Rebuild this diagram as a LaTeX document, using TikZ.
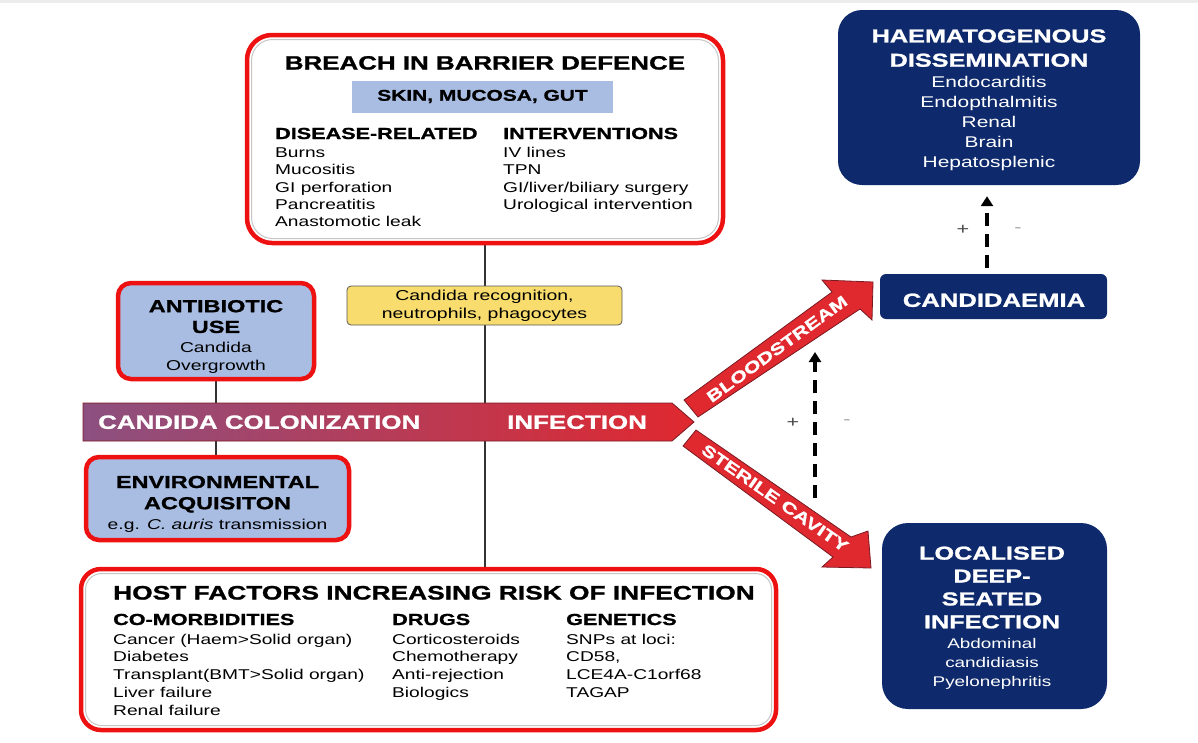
\documentclass[tikz,border=0pt]{standalone}
\usepackage{fontspec}
\setmainfont{Liberation Sans}[FakeStretch=1.35, BoldFeatures={FakeBold=1.2}]
\usetikzlibrary{arrows.meta}
\pgfdeclarelayer{bg}
\pgfdeclarelayer{canvas}
\pgfsetlayers{canvas,bg,main}
\definecolor{bred}{HTML}{EE1111}
\definecolor{lblue}{HTML}{A9BDE3}
\definecolor{navy}{HTML}{0E2A6C}
\definecolor{yel}{HTML}{F8DC6E}
\definecolor{arrred}{HTML}{E0282F}
\definecolor{arrdark}{HTML}{7A1A22}
\definecolor{mauve}{HTML}{8C5080}
\tikzset{
  redbox/.style={draw=bred, line width=4.5pt, rounded corners=#1, inner sep=0pt},
  redbox/.default=20pt,
  navybox/.style={fill=navy, rounded corners=#1, inner sep=0pt},
  navybox/.default=20pt,
  innerline/.style={draw=gray!45, line width=1pt, rounded corners=#1, inner sep=0pt},
  innerline/.default=18pt,
  tbig/.style={font=\bfseries\fontsize{19.2}{22}\selectfont, inner sep=0pt},
  thead/.style={font=\bfseries\fontsize{16}{19}\selectfont, inner sep=0pt},
  titem/.style={font=\fontsize{14.2}{17}\selectfont, inner sep=0pt},
  thd/.style={font=\bfseries\fontsize{17.4}{20}\selectfont, inner sep=0pt},
  tsm/.style={font=\fontsize{14.3}{17}\selectfont, inner sep=0pt},
  nvhead/.style={font=\bfseries\fontsize{18.7}{22}\selectfont, text=white, inner sep=0pt},
  nvitem/.style={font=\fontsize{15.5}{18}\selectfont, text=white, inner sep=0pt},
  nvsmall/.style={font=\fontsize{14}{17}\selectfont, text=white, inner sep=0pt},
  conn/.style={draw=black!80, line width=1.3pt},
  dashar/.style={line width=3.5pt, dash pattern=on 13pt off 8pt, -{Triangle[length=10pt,width=12pt]}},
  arrtext/.style={font=\bfseries\fontsize{16}{18}\selectfont, text=white, inner sep=0pt},
  pm/.style={font=\fontsize{16}{18}\selectfont, inner sep=0pt},
}
\begin{document}
\begin{tikzpicture}[x=1pt,y=-1pt]
\useasboundingbox (0,0) rectangle (1198,742);
\begin{pgfonlayer}{canvas}
\fill[white] (0,0) rectangle (1198,742);
\fill[gray!15] (0,0) rectangle (1198,2.5);
\end{pgfonlayer}

% ---------- top box: breach in barrier defence
\node[redbox=25pt, fill=white, minimum width=476pt, minimum height=208pt] (breach) at (485,139) {};
\node[innerline=21pt, minimum width=467pt, minimum height=199pt] (breachin) at (485,139) {};
\node[tbig, anchor=base] (breachT) at (485,69.5) {BREACH IN BARRIER DEFENCE};
\node[fill=lblue, minimum width=261pt, minimum height=32pt, inner sep=0pt,
      font=\bfseries\fontsize{15.5}{18}\selectfont] (skin) at (482.5,96.5) {SKIN, MUCOSA, GUT};
\node[thead, anchor=base west] (dr) at (275,139) {DISEASE-RELATED};
\foreach \t [count=\i] in {Burns,Mucositis,GI perforation,Pancreatitis,Anastomotic leak}
  \node[titem, anchor=base west] (dr\i) at (275,{157.5+17.3*(\i-1)}) {\t};
\node[thead, anchor=base west] (iv) at (503,139) {INTERVENTIONS};
\foreach \t [count=\i] in {IV lines,TPN,GI/liver/biliary surgery,Urological intervention}
  \node[titem, anchor=base west] (iv\i) at (503,{157.5+17.3*(\i-1)}) {\t};

% ---------- host factors box
\node[redbox=20pt, fill=white, minimum width=695pt, minimum height=161pt] (host) at (428.5,649.5) {};
\node[innerline=16pt, minimum width=686pt, minimum height=152pt] (hostin) at (428.5,649.5) {};
\node[tbig, anchor=base west, font=\bfseries\fontsize{19.5}{22}\selectfont] (hostT) at (113,599.5) {HOST FACTORS INCREASING RISK OF INFECTION};
\node[thead, anchor=base west] (com) at (113,625) {CO-MORBIDITIES};
\node[thead, anchor=base west] (drg) at (392,625) {DRUGS};
\node[thead, anchor=base west] (gen) at (566,625) {GENETICS};
\foreach \t [count=\i] in {{Cancer (Haem>Solid organ)},Diabetes,{Transplant(BMT>Solid organ)},Liver failure,Renal failure}
  \node[titem, anchor=base west] (com\i) at (113,{644+17.8*(\i-1)}) {\t};
\foreach \t [count=\i] in {Corticosteroids,Chemotherapy,Anti-rejection,Biologics}
  \node[titem, anchor=base west] (drg\i) at (392,{644+17.8*(\i-1)}) {\t};
\foreach \t [count=\i] in {SNPs at loci:,{CD58,},LCE4A-C1orf68,TAGAP}
  \node[titem, anchor=base west] (gen\i) at (566,{644+17.8*(\i-1)}) {\t};

% ---------- antibiotic / environmental boxes
\node[redbox=13pt, fill=lblue, minimum width=196pt, minimum height=96pt] (anti) at (216,331) {};
\node[thd, anchor=base] (antiA) at (216,312.2) {ANTIBIOTIC};
\node[thd, anchor=base] (antiB) at (216,332.9) {USE};
\node[tsm, anchor=base] (antiC) at (216,352.2) {Candida};
\node[tsm, anchor=base] (antiD) at (216,370.2) {Overgrowth};

\node[redbox=13pt, fill=lblue, minimum width=263pt, minimum height=83pt] (env) at (217.5,498.5) {};
\node[thd, anchor=base] (envA) at (217.5,488) {ENVIRONMENTAL};
\node[thd, anchor=base] (envB) at (217.5,509.2) {ACQUISITON};
\node[tsm, anchor=base] (envC) at (217.5,529.2) {e.g. \textit{C. auris} transmission};

% ---------- yellow box
\node[fill=yel, draw=black!65, line width=0.8pt, rounded corners=4pt, minimum width=275pt,
      minimum height=39pt, inner sep=0pt, align=center, font=\fontsize{14.4}{18}\selectfont]
      (yel) at (484.5,305.5) {Candida recognition,\\neutrophils, phagocytes};

% ---------- connectors (behind boxes and arrow)
\begin{pgfonlayer}{bg}
\draw[conn] (breach.south) -- (breach.south |- host.north);
\draw[conn] (anti.south) -- (anti.south |- env.north);
\end{pgfonlayer}

% ---------- main arrow
\path[draw=arrdark, line width=0.8pt, left color=mauve, middle color=arrred!92!black, right color=arrred]
  (83,403) -- (672,403) -- (694,422) -- (672,441) -- (83,441) -- cycle;
\node[tbig, text=white, anchor=base west] (colon) at (98,428.8) {CANDIDA COLONIZATION};
\node[tbig, text=white, anchor=base west] (infec) at (507,428.8) {INFECTION};

% ---------- branch arrows
\path[fill=arrred, draw=arrdark, line width=0.8pt]
  (684,400) -- (832,292) -- (822,280) -- (873,282) -- (872,320) -- (860,309) -- (698,417) -- cycle;
\path[fill=arrred, draw=arrdark, line width=0.8pt]
  (696,430) -- (851,537) -- (868,531) -- (871,568) -- (822,567) -- (833,557) -- (683,446) -- cycle;
\node[arrtext, rotate=36] (blood) at (777,349) {BLOODSTREAM};
\node[arrtext, rotate=-35] (steril) at (775,498) {STERILE CAVITY};

% ---------- navy boxes
\node[navybox=24pt, minimum width=302pt, minimum height=175pt] (haem) at (989,97.5) {};
\node[nvhead, anchor=base] (haemA) at (989,42.4) {HAEMATOGENOUS};
\node[nvhead, anchor=base] (haemB) at (989,66.7) {DISSEMINATION};
\foreach \t [count=\i] in {Endocarditis,Endopthalmitis,Renal,Brain,Hepatosplenic}
  \node[nvitem, anchor=base] (haem\i) at (989,{87.8+20*(\i-1)}) {\t};

\node[navybox=6pt, minimum width=227pt, minimum height=45pt] (cand) at (993.5,296.5) {};
\node[nvhead, anchor=base, font=\bfseries\fontsize{19}{22}\selectfont] (candT) at (994,306.8) {CANDIDAEMIA};

\node[navybox=26pt, minimum width=225pt, minimum height=186pt] (local) at (994.5,616) {};
\foreach \t [count=\i] in {LOCALISED,DEEP-,SEATED,INFECTION}
  \node[nvhead, anchor=base] (loc\i) at (992,{559.6+22.9*(\i-1)}) {\t};
\foreach \t [count=\i] in {Abdominal,candidiasis,Pyelonephritis}
  \node[nvsmall, anchor=base] (locs\i) at (992,{648+19*(\i-1)}) {\t};

% ---------- dashed arrows
\coordinate (d1s) at (815,498);
\coordinate (d1e) at (815,352);
\draw[dashar] (d1s) -- (d1e);
\node[pm, text=black!70] (p1) at (793,423) {+};
\node[pm, text=black!35] (m1) at (847,422) {-};

\coordinate (d2x) at (987,0);
\draw[dashar, shorten <=6pt, shorten >=11pt] (cand.north -| d2x) -- (haem.south -| d2x);
\node[pm, text=black!70] (p2) at (963,230) {+};
\node[pm, text=black!35] (m2) at (1018,230) {-};
\end{tikzpicture}
\end{document}
